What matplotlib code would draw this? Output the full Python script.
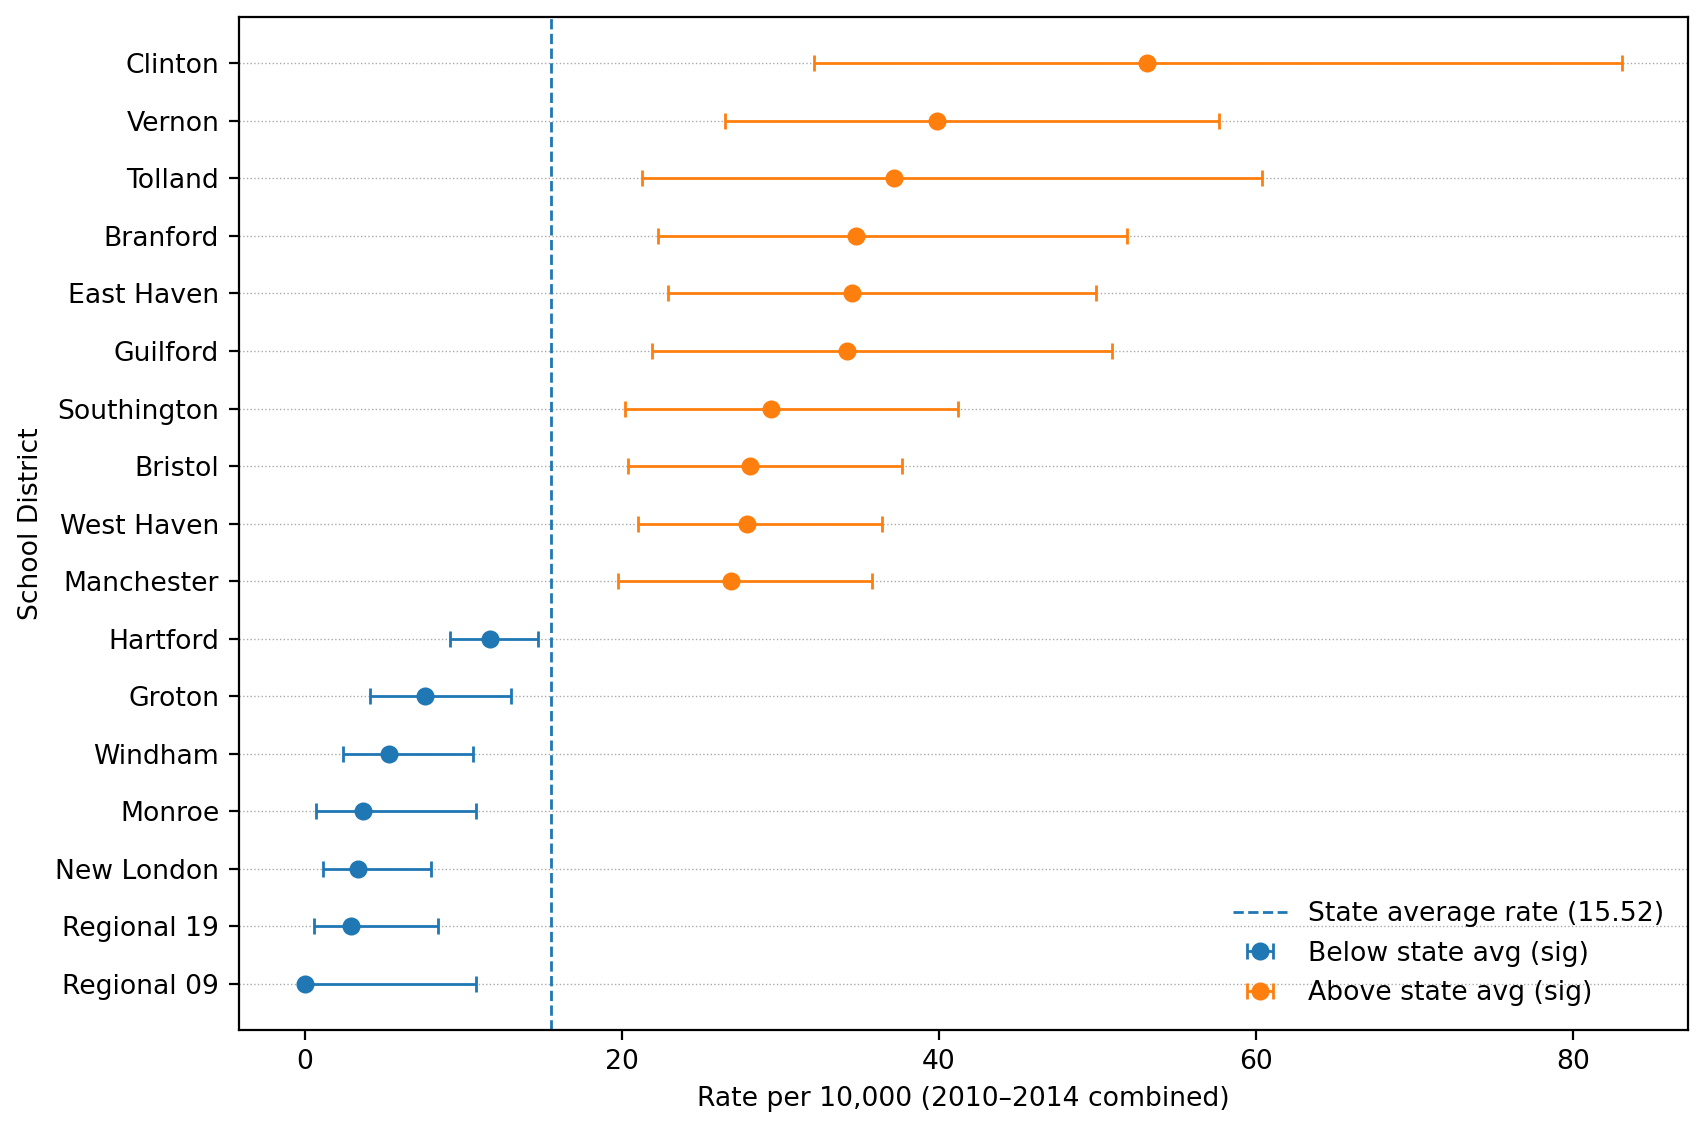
import matplotlib
matplotlib.use("Agg")
import matplotlib.pyplot as plt
import numpy as np

districts = ["Clinton", "Vernon", "Tolland", "Branford", "East Haven", "Guilford",
             "Southington", "Bristol", "West Haven", "Manchester", "Hartford",
             "Groton", "Windham", "Monroe", "New London", "Regional 19", "Regional 09"]
rates = [53.15, 39.9, 37.2, 34.8, 34.5, 34.2, 29.4, 28.1, 27.9, 26.9, 11.7,
         7.6, 5.35, 3.7, 3.36, 2.9, 0.0]
lower = [32.1, 26.5, 21.3, 22.3, 22.9, 21.9, 20.2, 20.4, 21.0, 19.8, 9.2,
         4.1, 2.4, 0.75, 1.17, 0.6, 0.0]
upper = [83.1, 57.7, 60.4, 51.9, 49.9, 50.9, 41.2, 37.7, 36.4, 35.8, 14.7,
         13.0, 10.6, 10.8, 7.96, 8.4, 10.8]
group = ["above"] * 10 + ["below"] * 7
state_avg = 15.52

plt.rcParams["font.size"] = 9.6

n = len(districts)
ypos = np.arange(n)[::-1]
rates = np.array(rates); lower = np.array(lower); upper = np.array(upper)
grp = np.array(group)

fig, ax = plt.subplots(figsize=(8.535, 5.66), dpi=200)
fig.subplots_adjust(left=0.1398, right=0.9889, top=0.9847, bottom=0.0902)
ax.axvline(state_avg, color="#1f77b4", linestyle="--", linewidth=1.0,
           label=f"State average rate ({state_avg:.2f})")

for g, color, lab in [("below", "#1f77b4", "Below state avg (sig)"),
                      ("above", "#ff7f0e", "Above state avg (sig)")]:
    m = grp == g
    ax.errorbar(rates[m], ypos[m],
                xerr=[rates[m] - lower[m], upper[m] - rates[m]],
                fmt="o", color=color, ecolor=color, capsize=3, markersize=5.5,
                elinewidth=1.0, label=lab, zorder=3)

ax.set_yticks(ypos)
ax.set_yticklabels(districts)
ax.grid(axis="y", linestyle=":", linewidth=0.5, color="#aaaaaa", zorder=0)
ax.set_axisbelow(True)
ax.set_xlabel("Rate per 10,000 (2010–2014 combined)")
ax.set_ylabel("School District")
ax.legend(loc="lower right", frameon=False)
fig.savefig("out.png", dpi=200)
